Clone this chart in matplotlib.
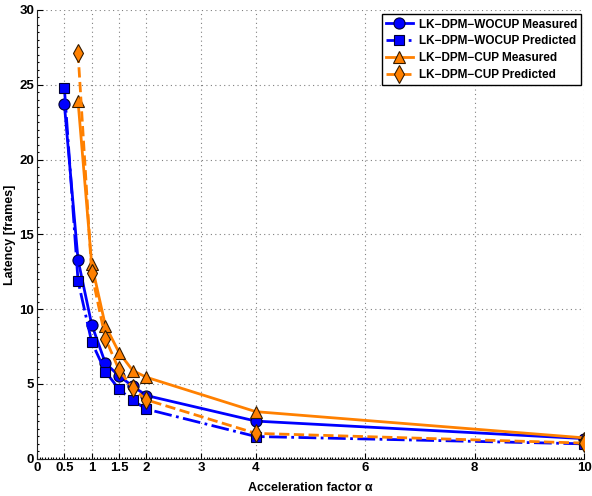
import numpy as np
import matplotlib.pyplot as plt
from matplotlib.ticker import AutoMinorLocator

plt.rcParams['font.family'] = ['Liberation Sans', 'DejaVu Sans']
plt.rcParams['font.weight'] = 'bold'

# acceleration factors
alpha = [0.5, 0.75, 1, 1.25, 1.5, 1.75, 2, 4, 10]
alpha_cup = [0.75, 1, 1.25, 1.5, 1.75, 2, 4, 10]

# latency in frames
wocup_measured = [23.7, 13.3, 8.97, 6.39, 5.54, 4.85, 4.23, 2.52, 1.35]
wocup_predicted = [24.8, 11.9, 7.8, 5.83, 4.65, 3.9, 3.32, 1.49, 1.0]
cup_measured = [23.9, 13.0, 8.9, 7.1, 5.9, 5.45, 3.15, 1.4]
cup_predicted = [27.15, 12.4, 8.04, 5.95, 4.72, 3.94, 1.7, 1.05]

xticks = [0, 0.5, 1, 1.5, 2, 3, 4, 6, 8, 10]
xticklabels = ['0', '0.5', '1', '1.5', '2', '3', '4', '6', '8', '10']
yticks = [0, 5, 10, 15, 20, 25, 30]

BLUE = '#0000ff'
ORANGE = '#ff8000'

fig = plt.figure(figsize=(5.92, 4.96), dpi=100)
ax = fig.add_axes([0.0625, 0.075, 0.924, 0.905])

ax.plot(alpha, wocup_measured, '-', color=BLUE, lw=2, marker='o', ms=8,
        mfc=BLUE, mec='#000033', mew=0.8, label='LK\u2212DPM\u2212WOCUP Measured')
ax.plot(alpha, wocup_predicted, '-.', color=BLUE, lw=2, marker='s', ms=7,
        mfc=BLUE, mec='#000033', mew=0.8, label='LK\u2212DPM\u2212WOCUP Predicted')
ax.plot(alpha_cup, cup_measured, '-', color=ORANGE, lw=2, marker='^', ms=9,
        mfc=ORANGE, mec='#331a00', mew=0.8, label='LK\u2212DPM\u2212CUP Measured')
ax.plot(alpha_cup, cup_predicted, '--', color=ORANGE, lw=2, marker='d', ms=9,
        mfc=ORANGE, mec='#331a00', mew=0.8, label='LK\u2212DPM\u2212CUP Predicted')

ax.set_xlim(0, 10)
ax.set_ylim(0, 30)
ax.set_xticks(xticks)
ax.set_xticklabels(xticklabels)
ax.set_yticks(yticks)
ax.xaxis.set_minor_locator(AutoMinorLocator(10))
ax.yaxis.set_minor_locator(AutoMinorLocator(10))
ax.tick_params(which='both', direction='in', labelsize=9.5, width=0.8, pad=2)
ax.tick_params(which='major', length=4)
ax.tick_params(which='minor', length=1.5)
for lab in ax.get_xticklabels() + ax.get_yticklabels():
    lab.set_fontweight('bold')

ax.grid(True, which='major', linestyle=(0, (1, 3)), color='#808080', lw=0.8)
ax.spines['top'].set_visible(False)
ax.spines['right'].set_visible(False)
ax.spines['left'].set_color('#202020')
ax.spines['bottom'].set_color('#202020')

ax.set_xlabel('Acceleration factor \u03b1', fontsize=9, fontweight='bold', labelpad=6)
ax.set_ylabel('Latency [frames]', fontsize=9, fontweight='bold')
ax.yaxis.set_label_coords(-0.038, 0.5)

leg = ax.legend(loc='upper right', bbox_to_anchor=(0.995, 0.99), fontsize=8.5,
                frameon=True, fancybox=False, edgecolor='black', framealpha=1,
                handlelength=2.3, borderpad=0.35, labelspacing=0.4,
                handletextpad=0.5, borderaxespad=0)
leg.get_frame().set_linewidth(1.0)
for t in leg.get_texts():
    t.set_fontweight('bold')

fig.savefig('out.png', dpi=100)
